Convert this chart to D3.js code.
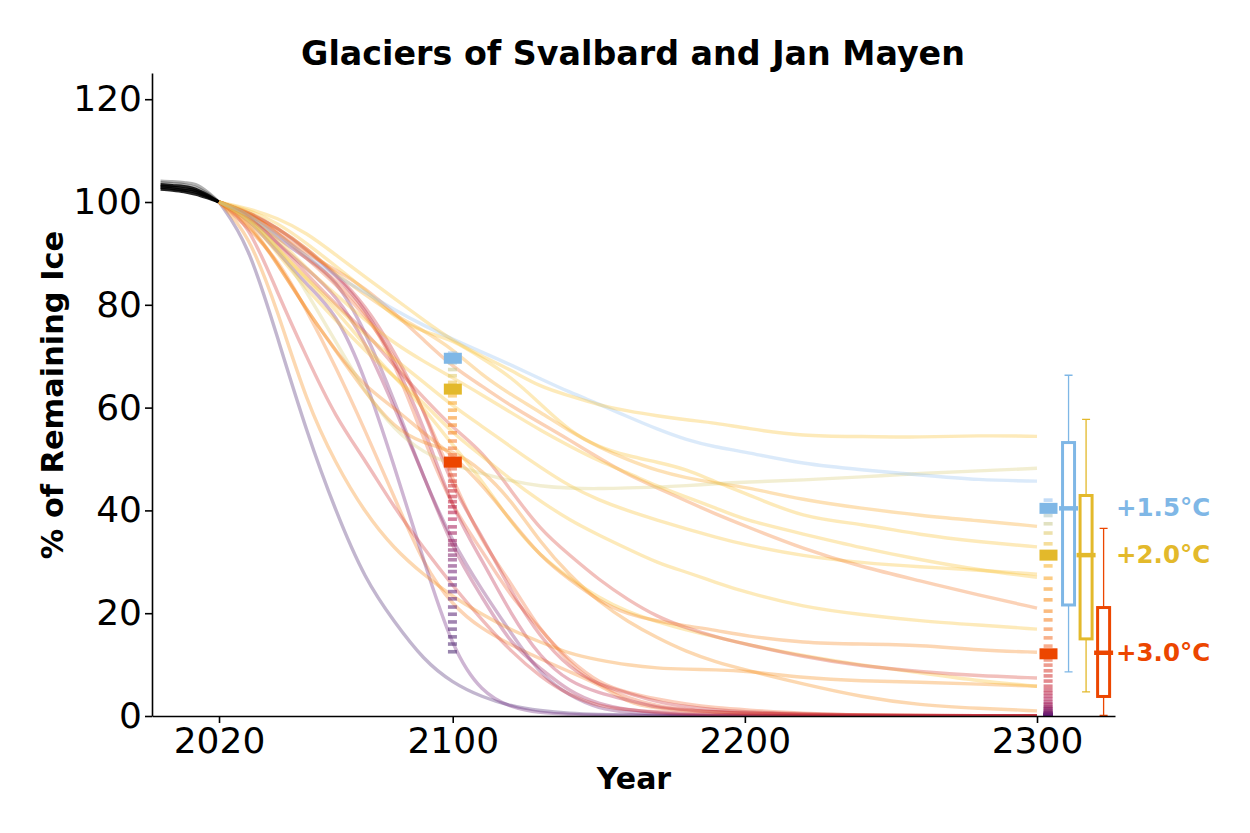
<!DOCTYPE html>
<html>
<head>
<meta charset="utf-8">
<script src="https://cdn.jsdelivr.net/npm/d3@7"></script>
<style>
  html, body { margin: 0; background: #fff; }
  text { font-family: "DejaVu Sans", sans-serif; fill: #000; }
</style>
</head>
<body>
<div id="chart"></div>
<script>
// glacier runs, % of 2020 ice
const histYears = [2000, 2004, 2008, 2012, 2016, 2020];
const hist1 = [104.1, 104.0, 103.8, 103.4, 102.0, 100];
const hist2 = [103.8, 103.6, 103.4, 102.9, 101.7, 100];
const hist3 = [103.4, 103.2, 103.0, 102.5, 101.4, 100];
const hist4 = [103.1, 102.9, 102.6, 102.2, 101.2, 100];
const hist5 = [102.8, 102.6, 102.3, 101.9, 101.0, 100];
const hist6 = [102.5, 102.3, 102.0, 101.5, 100.8, 100];

const years = [2020, 2030, 2040, 2050, 2060, 2070, 2080, 2090, 2100, 2110, 2120, 2130, 2140, 2150, 2160, 2170, 2180, 2190, 2200, 2220, 2240, 2260, 2280, 2300];

const runA = [100, 98.8, 96.9, 94, 89.7, 85.4, 81.3, 77, 73, 70, 67.3, 64, 62.3, 60.5, 59.3, 58.4, 57.6, 57, 56, 54.4, 54.4, 54.2, 54.6, 54.4];
const runB = [100, 97.8, 93.5, 89.5, 85.6, 82.5, 79, 76, 73.3, 70.8, 68.3, 65.6, 63, 60.7, 58.2, 55.8, 53.7, 52.3, 51.4, 49, 47.9, 46.9, 45.9, 45.7];
const runC = [100, 97, 91.5, 82.5, 72.8, 63, 55.6, 51.2, 48.8, 47.2, 45.7, 44.7, 44.3, 44.2, 44.4, 44.5, 44.8, 45.2, 45.5, 45.9, 46.5, 47.2, 47.7, 48.2];
const runD = [100, 98, 95, 91, 86, 82, 78, 75, 71.4, 66.3, 62.5, 59.1, 55.4, 52.3, 49.8, 47.7, 46.3, 45.3, 44.6, 42, 40.4, 39, 38, 36.9];
const runE = [100, 98.5, 96, 92, 87.5, 83, 77.4, 74.7, 73.2, 69.6, 66, 60.7, 55.4, 52.3, 50.6, 49.4, 48, 45.5, 43.4, 38.5, 37.4, 35.2, 33.9, 32.9];
const runF = [100, 97.8, 93, 87, 82, 77, 72.5, 69, 65.8, 62.5, 59, 55.6, 52.5, 49.6, 47.3, 44.7, 42.6, 40.5, 38.1, 35.4, 32.7, 30.4, 28.4, 27];
const runG = [100, 98, 94, 90, 86.8, 83.3, 78.4, 73.2, 67.9, 64.2, 60.3, 57, 53.7, 50.2, 46.9, 44.4, 41.8, 39.3, 37, 32.5, 29, 26.3, 23.5, 21];
const runH = [100, 97.5, 91, 85, 80, 74, 69.5, 65, 60.3, 56.4, 52.3, 48.4, 44.7, 42, 39.9, 38.1, 36.4, 34.8, 33.3, 31.1, 29.8, 29, 28.4, 27.6];
const runI = [100, 97, 90, 83, 77, 71, 66, 61, 55, 50.6, 45.9, 41.8, 38.1, 35.2, 32.5, 29.8, 28, 26, 24.1, 21.2, 19.7, 18.5, 17.7, 16.9];
const runJ = [100, 96, 88, 79, 71, 64, 60, 55, 50.8, 45, 38, 31, 26.5, 22.4, 19.7, 18.5, 17.5, 16.7, 15.6, 14.2, 14, 13.8, 12.8, 12.4];
const runK = [100, 97.6, 92, 86, 80, 75, 68, 62, 56, 51.6, 43.8, 36.2, 31.3, 26.5, 22.6, 19.3, 17.1, 15.4, 14, 11.5, 9.7, 8.6, 7.8, 7.4];
const runL = [100, 97, 91, 85, 79, 72, 66, 60, 52.7, 45.9, 37.5, 31.1, 26.8, 23, 20.2, 18.3, 16.7, 15.4, 14, 11.7, 9.9, 8.4, 6.8, 5.8];
const runM = [100, 94, 79, 61, 49, 39.5, 32.5, 27.5, 23.2, 19.8, 16.7, 14.4, 12.1, 10.9, 9.9, 9.3, 9.1, 9, 8.8, 7.4, 6.8, 6.6, 6.2, 5.8];
const runN = [100, 96.5, 88, 79, 71, 63, 56, 53, 51.7, 47.9, 42, 33.7, 27.4, 22.2, 18.3, 15.2, 12.5, 10.5, 9, 6.2, 3.7, 2.1, 1.5, 1];
const runO = [100, 92, 73.7, 55.2, 39.7, 26.5, 18.3, 10.9, 6.4, 3.7, 1.9, 1, 0.5, 0.3, 0.2, 0.1, 0.1, 0, 0, 0, 0, 0, 0, 0];
const runP = [100, 95, 88.9, 79, 67.9, 55.6, 42.6, 29.4, 21.4, 16.9, 13.8, 11.1, 8.6, 6.2, 2.5, 1.5, 1, 0.7, 0.5, 0.3, 0.1, 0.1, 0, 0];
const runQ = [100, 96, 82.3, 69.8, 58, 49.8, 40.5, 32.7, 25.3, 18.7, 12.5, 7.6, 4, 1.9, 1.2, 0.8, 0.5, 0.3, 0.2, 0.1, 0.1, 0, 0, 0];
const runR = [100, 96.9, 90.3, 83.9, 78.6, 66, 48.6, 30.4, 12.8, 4.5, 1.6, 0.6, 0.3, 0.1, 0.1, 0, 0, 0, 0, 0, 0, 0, 0, 0];
const runS = [100, 97.5, 93, 89, 85.2, 75, 61.5, 46.3, 33.7, 24.5, 16.1, 8, 3.9, 1.4, 0.7, 0.4, 0.2, 0.1, 0.1, 0, 0, 0, 0, 0];
const runT = [100, 98, 95, 90.7, 85.8, 79.4, 69.3, 56.6, 40, 30.4, 19.7, 11.3, 6.6, 4.5, 3.1, 1.6, 1.2, 0.8, 0.6, 0.3, 0.15, 0.1, 0.05, 0];
const runU = [100, 98, 94, 89.5, 84.7, 79, 69, 54, 40.3, 32.3, 23, 17.1, 10, 6, 3.5, 1.9, 1.2, 0.8, 0.5, 0.2, 0.1, 0.05, 0, 0];
const runV = [100, 98.2, 95, 91, 86, 80, 71, 60, 44, 35.2, 24.1, 15.2, 9.3, 6, 4.5, 2.7, 1.8, 1.2, 0.8, 0.4, 0.2, 0.1, 0.05, 0];
const runW = [100, 97.5, 92, 87, 82, 73, 60, 47, 32.3, 23.2, 13.8, 9.3, 4.7, 2.3, 1.2, 0.6, 0.3, 0.15, 0.1, 0, 0, 0, 0, 0];
const runX = [100, 98, 94, 89, 84, 78, 70, 60, 45.9, 33.7, 26, 16.3, 10.9, 6.4, 4.5, 3.3, 2.3, 1.6, 1.2, 0.5, 0.2, 0.1, 0.05, 0];

const runs = [runO, runP, runR, runS, runW, runX, runU, runQ, runV, runT, runN, runM, runL, runK, runJ, runI, runH, runG, runF, runE, runD, runC, runB, runA];
// warming level of each run above, °C
const runTemps = [6, 2.6, 5, 4.8, 4.2, 2.9, 3, 3.4, 3.5, 3.8, 2.4, 2.4, 2, 3.3, 2.5, 2, 2, 2.7, 2, 2, 2.2, 1.75, 1.5, 2];

// median remaining ice per warming level
const tempSteps = [1.4, 1.5, 1.6, 1.7, 1.8, 1.9, 2.0, 2.1, 2.2, 2.3, 2.4, 2.5, 2.6, 2.7, 2.8, 2.9, 3.0, 3.1, 3.2, 3.3, 3.4, 3.5, 3.6, 3.7, 3.8, 3.9, 4.0, 4.1, 4.2, 4.3, 4.4, 4.5, 4.6, 4.7, 4.8, 4.9, 5.0, 5.1, 5.2, 5.3, 5.4, 5.5, 5.6, 5.7, 5.8, 5.9, 6.0];
const medians2100 = [70.6, 69.6, 68.7, 67.4, 66.2, 64.9, 63.6, 62.3, 60.9, 59.5, 58.0, 56.6, 55.1, 53.5, 52.1, 50.8, 49.4, 48.1, 46.9, 45.7, 44.8, 43.8, 42.7, 41.7, 40.7, 39.6, 38.3, 36.8, 35.6, 34.1, 33.3, 32.3, 31.3, 30.4, 29.2, 28.1, 26.8, 25.5, 24.2, 22.8, 21.2, 19.8, 18.3, 16.9, 15.4, 14.0, 12.5];
const medians2300 = [42.0, 40.4, 39.0, 37.4, 35.6, 33.5, 31.3, 29.2, 26.8, 24.7, 22.6, 20.4, 18.7, 16.9, 15.2, 13.6, 12.1, 10.9, 9.9, 8.8, 7.8, 6.8, 5.8, 5.1, 4.5, 3.9, 3.3, 2.7, 2.3, 1.9, 1.6, 1.4, 1.1, 0.9, 0.7, 0.6, 0.5, 0.4, 0.33, 0.27, 0.22, 0.18, 0.15, 0.12, 0.1, 0.08, 0.06];

// highlighted levels
const levels = ["+1.5°C", "+2.0°C", "+3.0°C"];
const levelTemps = [1.5, 2.0, 3.0];
const levelColors = ["#7fb7e6", "#e3b92b", "#ec4600"];
const box15 = [8.6, 21.6, 40.4, 53.2, 66.3];
const box20 = [4.7, 15.0, 31.3, 42.9, 57.7];
const box30 = [0.1, 3.8, 12.3, 21.1, 36.5];
const boxes = [box15, box20, box30];
const boxYears = [2310.8, 2316.8, 2322.8];

const width = 1250, height = 833;
const margin = {top: 73, right: 135, bottom: 117, left: 152};

const x = d3.scaleLinear().domain([1997.06, 2326.7]).range([margin.left, width - margin.right]);
const y = d3.scaleLinear().domain([0, 125.1]).range([height - margin.bottom, margin.top]);

const tempColor = d3.scaleLinear()
  .domain([1.4, 1.5, 1.75, 2, 2.4, 2.9, 3.5, 4, 4.5, 5, 6])
  .range(["#91c0f0", "#91c0f0", "#d7cb75", "#fabe2f", "#f78911", "#f26b32", "#cc2a33", "#ae1550", "#872167", "#6a1f78", "#45206c"]);

const svg = d3.select("#chart").append("svg")
  .attr("width", width)
  .attr("height", height);

// lines stop at the axis
svg.append("defs").append("clipPath")
  .attr("id", "plot-area")
  .append("rect")
    .attr("x", margin.left)
    .attr("y", margin.top)
    .attr("width", width - margin.left - margin.right)
    .attr("height", height - margin.top - margin.bottom);

const histLine = d3.line()
  .x(d => x(d[0]))
  .y(d => y(d[1]))
  .curve(d3.curveMonotoneX);

const runLine = d3.line()
  .x(d => x(d[0]))
  .y(d => y(d[1]))
  .curve(d3.curveBasis);

// historical spread
svg.append("g")
  .selectAll("path")
  .data([hist1, hist2, hist3, hist4, hist5, hist6])
  .enter().append("path")
    .attr("d", d => histLine(d.map((v, i) => [histYears[i], v])))
    .attr("fill", "none")
    .attr("stroke", "#000")
    .attr("stroke-opacity", (d, i) => i < 2 ? 0.3 : 0.85)
    .attr("stroke-width", 3);

// projections
svg.append("g")
  .attr("clip-path", "url(#plot-area)")
  .selectAll("path")
  .data(runs)
  .enter().append("path")
    .attr("d", d => runLine(d.map((v, i) => [years[i], v])))
    .attr("fill", "none")
    .attr("stroke", (d, i) => tempColor(runTemps[i]))
    .attr("stroke-opacity", 0.33)
    .attr("stroke-width", 3.4);

// median dashes, 2100 and just past 2300, coolest on top
const dashColumn = (vals, yr) => {
  svg.append("g")
    .selectAll("rect")
    .data(vals.map((v, i) => [v, tempSteps[i]]).reverse())
    .enter().append("rect")
      .attr("x", x(yr) - 4.5)
      .attr("y", d => y(d[0]) - 1.8)
      .attr("width", 9)
      .attr("height", d => Math.min(3.6, y(0) - y(d[0]) + 1.8))
      .attr("fill", d => tempColor(d[1]))
      .attr("fill-opacity", 0.55);

  svg.append("g")
    .selectAll("rect")
    .data(levelTemps)
    .enter().append("rect")
      .attr("x", x(yr) - 8.6)
      .attr("y", d => y(vals[tempSteps.indexOf(d)]) - 5.5)
      .attr("width", 18)
      .attr("height", 11)
      .attr("fill", (d, i) => levelColors[i]);
};
dashColumn(medians2100, 2099.9);
dashColumn(medians2300, 2303.8);

// box plots
const boxG = svg.append("g")
  .selectAll("g")
  .data(boxes)
  .enter().append("g")
    .attr("transform", (d, i) => `translate(${x(boxYears[i])},0)`)
    .attr("stroke", (d, i) => levelColors[i])
    .attr("fill", "none");

boxG.append("path")
  .attr("stroke-width", 1.3)
  .attr("d", d => `M0,${y(d[3])}V${y(d[4])}M-4,${y(d[4])}H4M0,${y(d[1])}V${y(d[0])}M-4,${y(d[0])}H4`);

boxG.append("rect")
  .attr("x", -6)
  .attr("width", 12)
  .attr("y", d => y(d[3]))
  .attr("height", d => y(d[1]) - y(d[3]))
  .attr("stroke-width", 3);

boxG.append("line")
  .attr("x1", -9.5)
  .attr("x2", 9.5)
  .attr("y1", d => y(d[2]))
  .attr("y2", d => y(d[2]))
  .attr("stroke-width", 4.5);

// level labels
svg.append("g")
  .selectAll("text")
  .data(levels)
  .enter().append("text")
    .attr("x", 1116)
    .attr("y", (d, i) => y(boxes[i][2]))
    .attr("dy", "0.33em")
    .style("font-size", "24.5px")
    .style("font-weight", "bold")
    .style("fill", (d, i) => levelColors[i])
    .text(d => d);

// axes
const xAxis = d3.axisBottom(x).tickValues([2020, 2100, 2200, 2300]).tickFormat(d3.format("d")).tickSize(7).tickSizeOuter(0).tickPadding(4);
const yAxis = d3.axisLeft(y).tickValues([0, 20, 40, 60, 80, 100, 120]).tickSize(7).tickSizeOuter(0).tickPadding(3);

svg.append("g")
  .attr("transform", `translate(0,${y(0)})`)
  .call(xAxis)
  .call(g => g.selectAll("path,line").attr("stroke", "#000").attr("stroke-width", 1.6))
  .call(g => g.selectAll("text").style("font-size", "36px"));

svg.append("g")
  .attr("transform", `translate(${x.range()[0]},0)`)
  .call(yAxis)
  .call(g => g.selectAll("path,line").attr("stroke", "#000").attr("stroke-width", 1.6))
  .call(g => g.selectAll("text").style("font-size", "36px"));

svg.append("text")
  .attr("x", 633)
  .attr("y", 65)
  .attr("text-anchor", "middle")
  .style("font-size", "33.3px")
  .style("font-weight", "bold")
  .text("Glaciers of Svalbard and Jan Mayen");

svg.append("text")
  .attr("x", 634)
  .attr("y", 789)
  .attr("text-anchor", "middle")
  .style("font-size", "30px")
  .style("font-weight", "bold")
  .text("Year");

svg.append("text")
  .attr("transform", "translate(63,395) rotate(-90)")
  .attr("text-anchor", "middle")
  .style("font-size", "30.4px")
  .style("font-weight", "bold")
  .text("% of Remaining Ice");
</script>
</body>
</html>
